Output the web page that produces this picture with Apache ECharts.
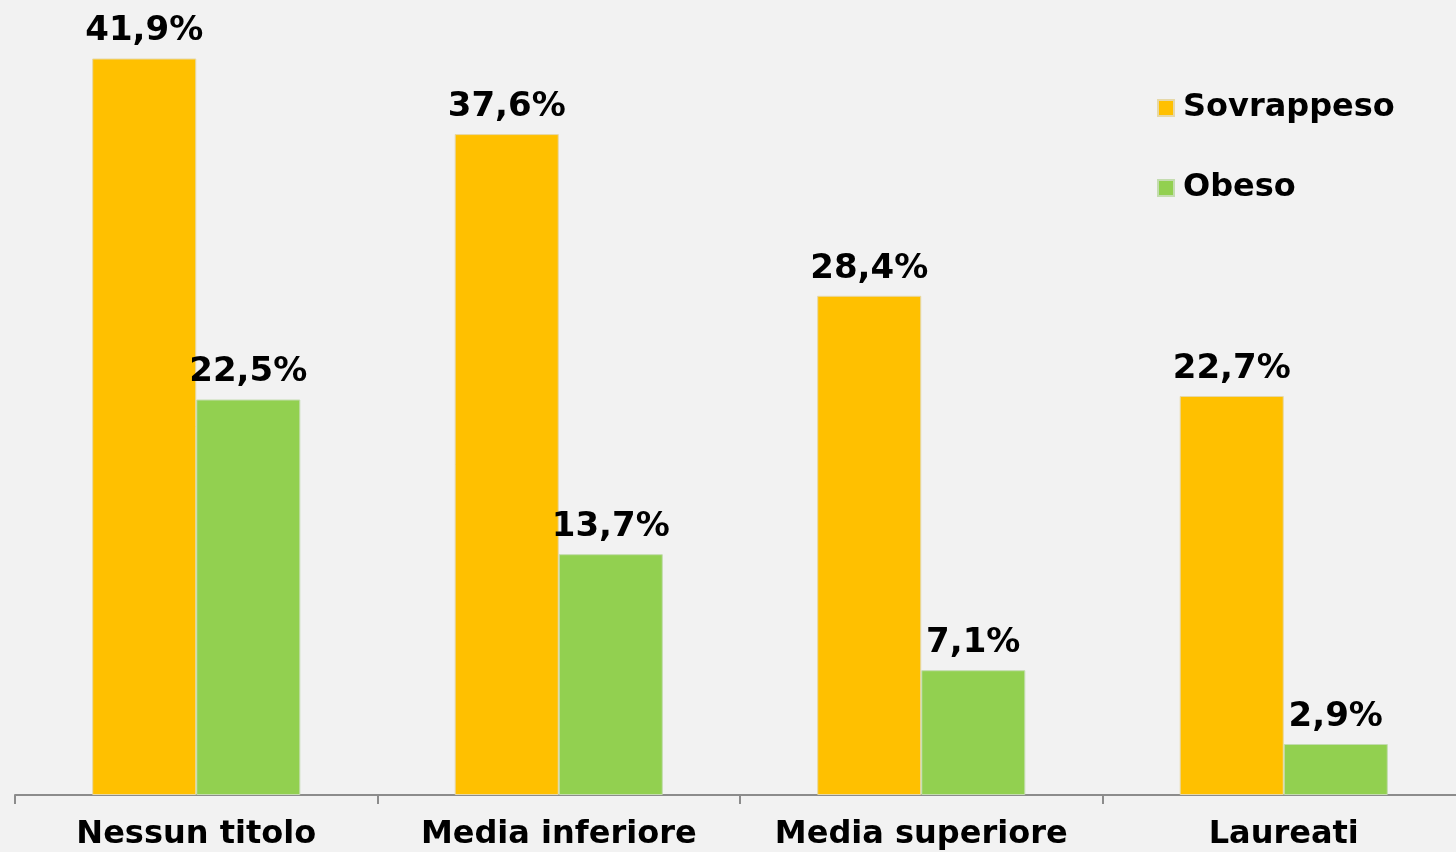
<!DOCTYPE html>
<html>
<head>
<meta charset="utf-8">
<script src="https://cdn.jsdelivr.net/npm/echarts@6/dist/echarts.min.js"></script>
<style>
  html, body { margin: 0; padding: 0; background: #f2f2f2; overflow: hidden; }
  #chart { width: 1465px; height: 852px; }
</style>
</head>
<body>
<div id="chart"></div>
<script>
// Titolo di studio
const categories = ['Nessun titolo', 'Media inferiore', 'Media superiore', 'Laureati'];
// Percentuali per categoria
const sovrappeso = [41.9, 37.6, 28.4, 22.7];
const obeso = [22.5, 13.7, 7.1, 2.9];

const FONT = '"DejaVu Sans", Verdana, sans-serif';
const fmt = p => p.value.toFixed(1).replace('.', ',') + '%';

const labelStyle = {
  show: true,
  position: 'top',
  distance: 10,
  formatter: fmt,
  color: '#000',
  fontFamily: FONT,
  fontWeight: 'bold',
  fontSize: 34
};

const chart = echarts.init(document.getElementById('chart'));
chart.setOption({
  backgroundColor: '#f2f2f2',
  animation: false,
  grid: { left: 15, right: 0, top: 4, bottom: 57 },
  legend: {
    orient: 'vertical',
    left: 1157,
    top: 91,
    padding: 0,
    itemWidth: 16,
    itemHeight: 16,
    itemGap: 46,
    icon: 'rect',
    textStyle: {
      color: '#000',
      fontFamily: FONT,
      fontWeight: 'bold',
      fontSize: 32,
      lineHeight: 34,
      padding: [0, 0, 0, 4]
    },
    data: ['Sovrappeso', 'Obeso']
  },
  xAxis: {
    type: 'category',
    data: categories,
    axisLine: { lineStyle: { color: '#8c8c8c', width: 2 } },
    axisTick: { show: true, length: 9, lineStyle: { color: '#8c8c8c', width: 2 } },
    axisLabel: {
      interval: 0,
      color: '#000',
      fontFamily: FONT,
      fontWeight: 'bold',
      fontSize: 32,
      margin: 24
    }
  },
  yAxis: {
    type: 'value',
    min: 0,
    max: 45,
    show: false,
    splitLine: { show: false }
  },
  series: [
    {
      name: 'Sovrappeso',
      type: 'bar',
      data: sovrappeso,
      barGap: '0%',
      barCategoryGap: '42.6%',
      itemStyle: { color: '#ffc000', borderColor: '#e6d8a8', borderWidth: 1 },
      label: labelStyle
    },
    {
      name: 'Obeso',
      type: 'bar',
      data: obeso,
      barGap: '0%',
      barCategoryGap: '42.6%',
      itemStyle: { color: '#92d050', borderColor: '#c4dcb0', borderWidth: 1 },
      label: labelStyle
    }
  ]
});
</script>
</body>
</html>
